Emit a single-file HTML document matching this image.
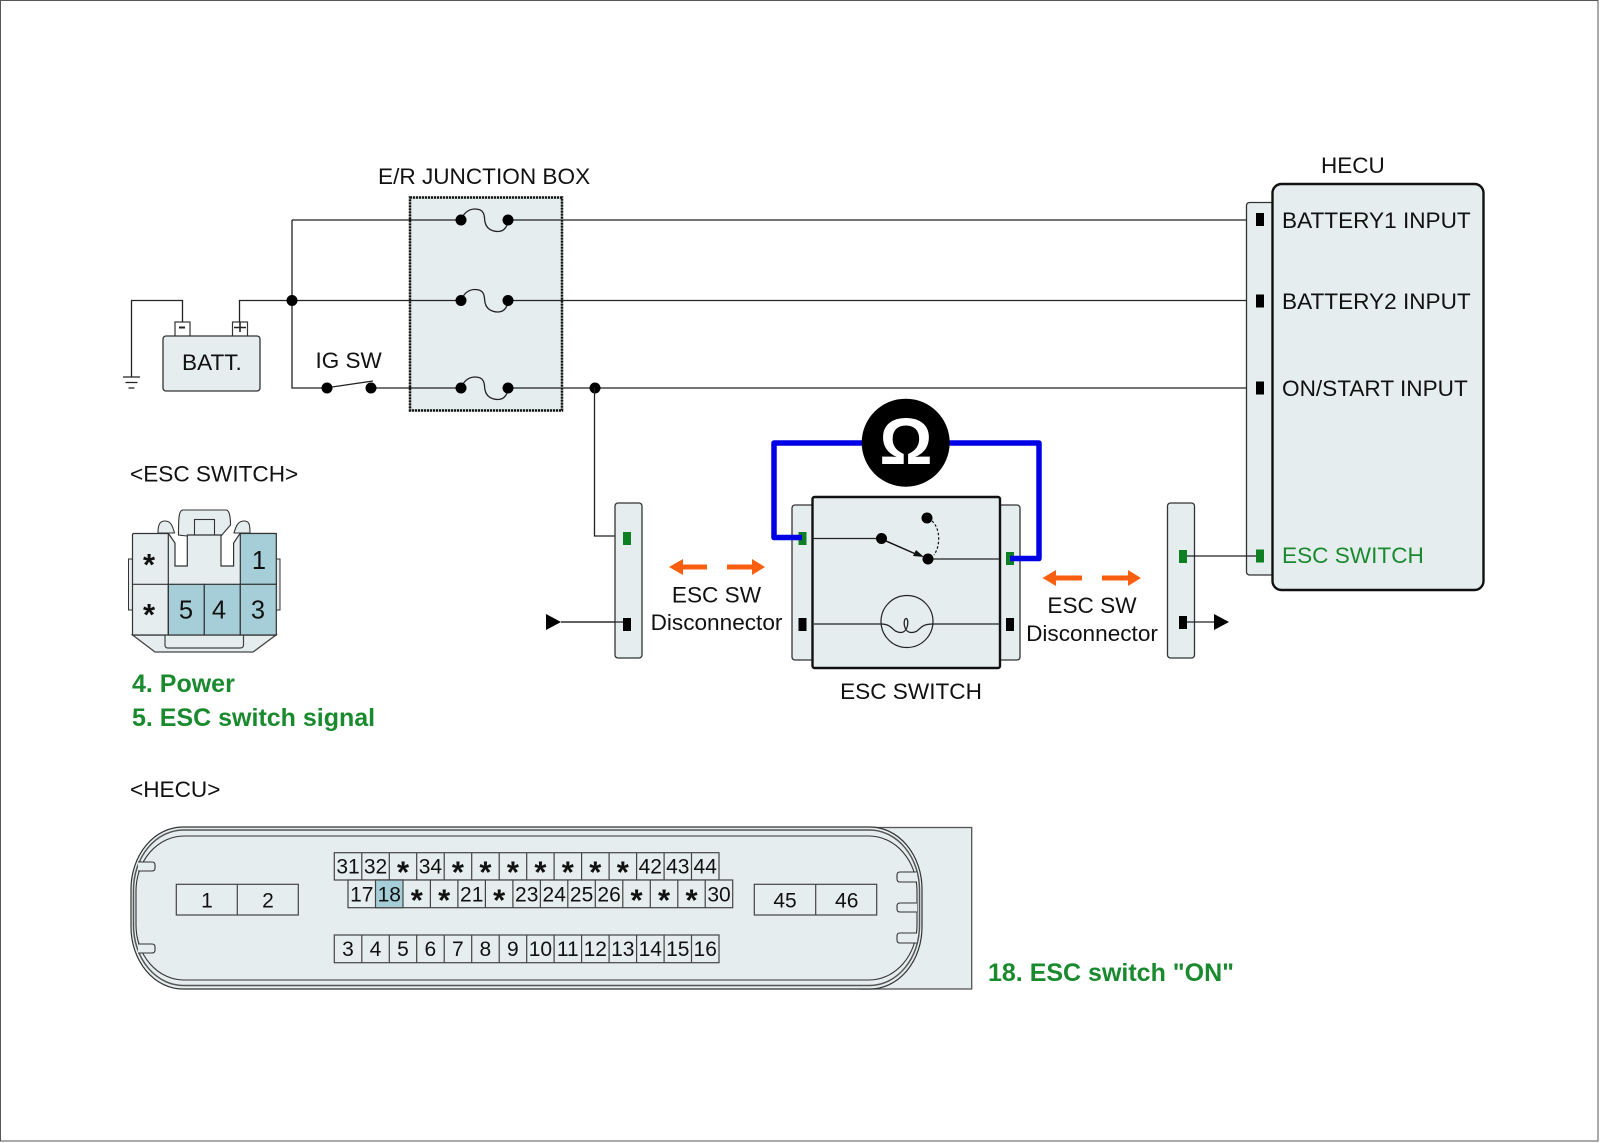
<!DOCTYPE html>
<html><head><meta charset="utf-8"><style>
html,body{margin:0;padding:0;background:#fff}
svg{display:block}
text{font-family:"Liberation Sans",sans-serif;fill:#111}
.c{text-anchor:middle}
.w{fill:none;stroke:#222;stroke-width:1.3}
.b{fill:#e5edee;stroke:#333;stroke-width:1.3}
.t{font-size:21px;text-anchor:middle}
.s{font-size:31px;text-anchor:middle;font-weight:bold}
.l{font-size:22.6px}
.g{font-weight:bold;fill:#1a8a2e;font-size:25px}
.cell{fill:#e5edee;stroke:#444;stroke-width:1.2}
</style></head><body>
<svg xmlns="http://www.w3.org/2000/svg" width="1600" height="1143" viewBox="0 0 1600 1143">
<rect width="1600" height="1143" fill="#fff"/>
<rect x="0.5" y="0.5" width="1597.500" height="1140.500" fill="none" stroke="#555" stroke-width="1"/>

<!-- battery -->
<rect x="175" y="322" width="15" height="15" fill="#fff" stroke="#333" stroke-width="1.2"/>
<rect x="232.500" y="322" width="15" height="15" fill="#fff" stroke="#333" stroke-width="1.2"/>
<rect x="163" y="336" width="97" height="55" rx="3" class="b"/>
<path d="M179 327.500h6" stroke="#222" stroke-width="2"/>
<path d="M234 327.500h12M240 322v10" stroke="#222" stroke-width="1.6"/>
<text x="182" y="370" class="l">BATT.</text>
<path class="w" d="M182.500 322V300.500H131.500V377M239.500 322V300.500H292"/>
<path class="w" d="M123 377h17M125.500 382.500h12M128.500 388h6"/>

<!-- junction box -->
<rect x="410" y="197.500" width="152" height="213" fill="#e5edee" stroke="#111" stroke-width="2.500" stroke-dasharray="2.200 0.800"/>
<text x="378" y="184" class="l">E/R JUNCTION BOX</text>
<path class="w" d="M292 220V388H327M292 220H461M292 300.500H461M371 388H461M508 220H1256M508 300.500H1256M508 388H1256"/>
<path class="w" d="M461 220C465 210 472 209 475 209C486 209 484 218 485 222C487 232 498 232 501 231C505 230 508 225 508 220"/>
<path class="w" d="M461 300.500C465 290.500 472 289.500 475 289.500C486 289.500 484 298.500 485 302.500C487 312.500 498 312.500 501 311.500C505 310.500 508 305.500 508 300.500"/>
<path class="w" d="M461 388C465 378 472 377 475 377C486 377 484 386 485 390C487 400 498 400 501 399C505 398 508 393 508 388"/>
<g fill="#000">
<circle cx="461" cy="220" r="5.500"/><circle cx="508" cy="220" r="5.500"/>
<circle cx="461" cy="300.500" r="5.500"/><circle cx="508" cy="300.500" r="5.500"/>
<circle cx="461" cy="388" r="5.500"/><circle cx="508" cy="388" r="5.500"/>
<circle cx="292" cy="300.500" r="5.500"/>
<circle cx="327" cy="388" r="5.500"/><circle cx="371" cy="388" r="5.500"/>
<circle cx="595" cy="388" r="5.500"/>
</g>
<path class="w" d="M332 387L373 381"/>
<text x="315.500" y="368" style="font-size:22.500px">IG SW</text>

<!-- HECU -->
<text x="1321" y="173" style="font-size:22.500px">HECU</text>
<rect x="1246.500" y="202.500" width="40" height="372.500" rx="3" class="b"/>
<rect x="1272.500" y="184" width="211" height="406" rx="9" fill="#e5edee" stroke="#111" stroke-width="2.400"/>
<rect x="1256" y="213" width="8" height="13" fill="#000"/>
<rect x="1256" y="294.500" width="8" height="13" fill="#000"/>
<rect x="1256" y="381.500" width="8" height="13" fill="#000"/>
<rect x="1256" y="549.500" width="8" height="13" fill="#0f7f23"/>
<text x="1282" y="228" class="l">BATTERY1 INPUT</text>
<text x="1282" y="309" class="l">BATTERY2 INPUT</text>
<text x="1282" y="396" class="l">ON/START INPUT</text>
<text x="1282" y="563" class="l" style="fill:#1a8a2e">ESC SWITCH</text>

<!-- left disconnector -->
<path class="w" d="M594.500 388V536H623M561 622H623"/>
<rect x="615" y="503" width="27" height="155" rx="3" class="b"/>
<rect x="623" y="532" width="8" height="13" fill="#0f7f23"/>
<rect x="623" y="618" width="8" height="13" fill="#000"/>
<path class="w" d="M561 622H623"/>
<path d="M546 614L561 622L546 630Z" fill="#000"/>
<path d="M669 567L683 559V564.500H707V569.500H683V575Z" fill="#fa5f10"/>
<path d="M765 567L752 559V564.500H727V569.500H752V575Z" fill="#fa5f10"/>
<text x="716.500" y="602.500" class="c l">ESC SW</text>
<text x="716.500" y="630" class="c l">Disconnector</text>

<!-- ESC switch -->
<rect x="792" y="505" width="228" height="155" rx="3" class="b"/>
<rect x="812.500" y="497" width="187.500" height="171" rx="2" fill="#e5edee" stroke="#111" stroke-width="2.400"/>
<rect x="798.500" y="532" width="8" height="13" fill="#0f7f23"/>
<rect x="1006" y="552" width="8" height="13" fill="#0f7f23"/>
<rect x="798.500" y="618" width="8" height="13" fill="#000"/>
<rect x="1006" y="618" width="8" height="13" fill="#000"/>
<path class="w" d="M813 538.500H881M928 559H1000M814 624H881M933 624H1000"/>
<path d="M886 541L918 555" stroke="#111" stroke-width="1.500" fill="none"/>
<path d="M924 557L913 556L916 550Z" fill="#111"/>
<circle cx="881.500" cy="538.500" r="5.500"/><circle cx="928" cy="559" r="5.500"/><circle cx="927" cy="518" r="5.500"/>
<path d="M932 521C940 528 941 545 934 555" fill="none" stroke="#111" stroke-width="1.200" stroke-dasharray="2.500 2"/>
<circle cx="907" cy="621.500" r="26" fill="none" stroke="#222" stroke-width="1.200"/>
<path class="w" d="M881 624C893 624 892 632 900 632.500C909 633 909 618 906 618.500C903 619 903 633 912 632.500C921 632 918 624 933 624"/>
<path d="M802 537.500H774V443H1039V558.500H1010" fill="none" stroke="#0000e6" stroke-width="5.500" stroke-linejoin="round"/>
<circle cx="905.700" cy="442.700" r="44" fill="#000"/>
<text x="906" y="464" class="c" style="font-size:66px;font-weight:bold;fill:#fff">Ω</text>
<text x="911" y="699" class="c l">ESC SWITCH</text>

<!-- right disconnector -->
<rect x="1167.500" y="503" width="27" height="155" rx="3" class="b"/>
<rect x="1179" y="550" width="8" height="13" fill="#0f7f23"/>
<rect x="1179" y="616" width="8" height="13" fill="#000"/>
<path class="w" d="M1187 556H1256M1187 622H1215"/>
<path d="M1214 614L1229 622L1214 630Z" fill="#000"/>
<path d="M1042.500 578L1056 570V575.500H1082V580.500H1056V586Z" fill="#fa5f10"/>
<path d="M1141 578L1128 570V575.500H1102V580.500H1128V586Z" fill="#fa5f10"/>
<text x="1092" y="613" class="c l">ESC SW</text>
<text x="1092" y="641" class="c l">Disconnector</text>

<!-- ESC connector -->
<text x="130" y="481.500" class="l">&lt;ESC SWITCH&gt;</text>
<path d="M178.500 535C178.500 520 178.500 510 183 510H226C230 510 230.500 520 230.500 525L221 536H187Z" fill="#e5edee" stroke="#333" stroke-width="1.100"/>
<rect x="194.500" y="519.500" width="20" height="16" fill="#e5edee" stroke="#333" stroke-width="1.100"/>
<path d="M158 533C158 524 160 521 165 521C171 521 172.500 526 174.500 533Z" fill="#e5edee" stroke="#333" stroke-width="1.100"/>
<path d="M234 533C236 526 238 521 244 521C249 521 250 524 250 533Z" fill="#e5edee" stroke="#333" stroke-width="1.100"/>
<rect x="128.500" y="559" width="5" height="51" fill="#e5edee" stroke="#333" stroke-width="1"/>
<rect x="275" y="559" width="5" height="51" fill="#e5edee" stroke="#333" stroke-width="1"/>
<path d="M132.500 635L155 652H253L276 635Z" fill="#e5edee" stroke="#444" stroke-width="1.300"/>
<path d="M165 635V645Q165 648 168 648H240Q243.500 648 243.500 645V635" fill="#e5edee" stroke="#444" stroke-width="1.200"/>
<path d="M132.500 535Q132.500 533.500 134 533.500H168.500L175 543V566H187.300V535H221V566H233.600V543L240 533.500H275Q276 533.500 276 535V635H132.500Z" fill="#e5edee" stroke="#333" stroke-width="1.200"/>
<rect x="240.300" y="533.500" width="36" height="51" fill="#a6ced9" stroke="#333" stroke-width="1.200"/>
<rect x="168.300" y="584.300" width="36" height="50.700" fill="#a6ced9" stroke="#333" stroke-width="1.200"/>
<rect x="204.300" y="584.300" width="36" height="50.700" fill="#a6ced9" stroke="#333" stroke-width="1.200"/>
<rect x="240.300" y="584.300" width="36" height="50.700" fill="#a6ced9" stroke="#333" stroke-width="1.200"/>
<path d="M132.500 584.300H168.300M168.300 533.500V635" stroke="#333" stroke-width="1.200" fill="none"/>
<text x="259" y="569" class="c" style="font-size:25.500px">1</text>
<text x="186" y="618.500" class="c" style="font-size:25.500px">5</text>
<text x="219" y="618.500" class="c" style="font-size:25.500px">4</text>
<text x="258" y="618.500" class="c" style="font-size:25.500px">3</text>
<text x="149" y="575" class="s">*</text>
<text x="149" y="625" class="s">*</text>
<text x="132" y="692" class="g">4. Power</text>
<text x="132" y="726" class="g">5. ESC switch signal</text>

<!-- HECU connector -->
<text x="130" y="797" class="l">&lt;HECU&gt;</text>
<rect x="860" y="827.500" width="111.700" height="161.500" fill="#e5edee" stroke="#555" stroke-width="1.300"/>
<rect x="131" y="827" width="791" height="162" rx="52" ry="62" fill="#e5edee" stroke="#333" stroke-width="1.200"/>
<rect x="133.500" y="830" width="786" height="155.500" rx="50" ry="60" fill="none" stroke="#555" stroke-width="1.500"/>
<rect x="136" y="836" width="781" height="144" rx="48" ry="55" fill="none" stroke="#333" stroke-width="1.100"/>
<g fill="#e5edee" stroke="#333" stroke-width="1.100">
<path d="M138 862H152Q155 862 155 865V868Q155 871 152 871H138"/>
<path d="M138 944H152Q155 944 155 947V950Q155 953 152 953H138"/>
<path d="M917 872H900Q897 872 897 875V879Q897 882 900 882H917"/>
<path d="M917 903H900Q897 903 897 906V909Q897 912 900 912H917"/>
<path d="M917 933H900Q897 933 897 936V940Q897 943 900 943H917"/>
</g>

<g class="cell">
<rect class="cell" x="176.300" y="884.300" width="122" height="30.700"/>
<path class="cell" d="M237.300 884.300V915"/>
<rect class="cell" x="754.300" y="884.300" width="122.400" height="30.700"/>
<path class="cell" d="M815.700 884.300V915"/>
<rect class="cell" x="334.300" y="852.700" width="384.700" height="27.300"/>
<rect class="cell" x="348" y="880" width="384.700" height="27.700"/>
<rect x="375.500" y="880" width="27.500" height="27.700" fill="#a6ced9" stroke="#444" stroke-width="1.200"/>
<rect class="cell" x="334.300" y="935" width="384.700" height="27.700"/>
<path class="cell" d="M361.800 852.700V880M389.300 852.700V880M416.700 852.700V880M444.200 852.700V880M471.700 852.700V880M499.200 852.700V880M526.700 852.700V880M554.100 852.700V880M581.600 852.700V880M609.100 852.700V880M636.600 852.700V880M664.100 852.700V880M691.500 852.700V880"/>
<path class="cell" d="M430.400 880V907.700M457.900 880V907.700M485.400 880V907.700M512.900 880V907.700M540.400 880V907.700M567.800 880V907.700M595.300 880V907.700M622.800 880V907.700M650.300 880V907.700M677.800 880V907.700M705.200 880V907.700"/>
<path class="cell" d="M361.800 935V962.700M389.300 935V962.700M416.700 935V962.700M444.200 935V962.700M471.700 935V962.700M499.200 935V962.700M526.700 935V962.700M554.100 935V962.700M581.600 935V962.700M609.100 935V962.700M636.600 935V962.700M664.100 935V962.700M691.500 935V962.700"/>
</g>

<text x="207" y="907.500" class="t">1</text><text x="268" y="907.500" class="t">2</text>
<text x="785" y="907.500" class="t">45</text><text x="846.700" y="907.500" class="t">46</text>

<text x="348" y="873.300" class="t">31</text><text x="375.500" y="873.300" class="t">32</text><text x="403" y="882.500" class="s">*</text><text x="430.400" y="873.300" class="t">34</text><text x="457.900" y="882.500" class="s">*</text><text x="485.400" y="882.500" class="s">*</text><text x="512.900" y="882.500" class="s">*</text><text x="540.400" y="882.500" class="s">*</text><text x="567.800" y="882.500" class="s">*</text><text x="595.300" y="882.500" class="s">*</text><text x="622.800" y="882.500" class="s">*</text><text x="650.300" y="873.300" class="t">42</text><text x="677.800" y="873.300" class="t">43</text><text x="705.200" y="873.300" class="t">44</text>

<text x="361.800" y="901.700" class="t">17</text><text x="389.300" y="901.700" class="t">18</text><text x="416.800" y="910.500" class="s">*</text><text x="444.200" y="910.500" class="s">*</text><text x="471.700" y="901.700" class="t">21</text><text x="499.200" y="910.500" class="s">*</text><text x="526.700" y="901.700" class="t">23</text><text x="554.200" y="901.700" class="t">24</text><text x="581.600" y="901.700" class="t">25</text><text x="609.100" y="901.700" class="t">26</text><text x="636.600" y="910.500" class="s">*</text><text x="664.100" y="910.500" class="s">*</text><text x="691.600" y="910.500" class="s">*</text><text x="719" y="901.700" class="t">30</text>

<text x="348" y="956" class="t">3</text><text x="375.500" y="956" class="t">4</text><text x="403" y="956" class="t">5</text><text x="430.400" y="956" class="t">6</text><text x="457.900" y="956" class="t">7</text><text x="485.400" y="956" class="t">8</text><text x="512.900" y="956" class="t">9</text><text x="540.400" y="956" class="t">10</text><text x="567.800" y="956" class="t">11</text><text x="595.300" y="956" class="t">12</text><text x="622.800" y="956" class="t">13</text><text x="650.300" y="956" class="t">14</text><text x="677.800" y="956" class="t">15</text><text x="705.200" y="956" class="t">16</text>

<text x="988" y="981" class="g">18. ESC switch "ON"</text>
</svg>
</body></html>
